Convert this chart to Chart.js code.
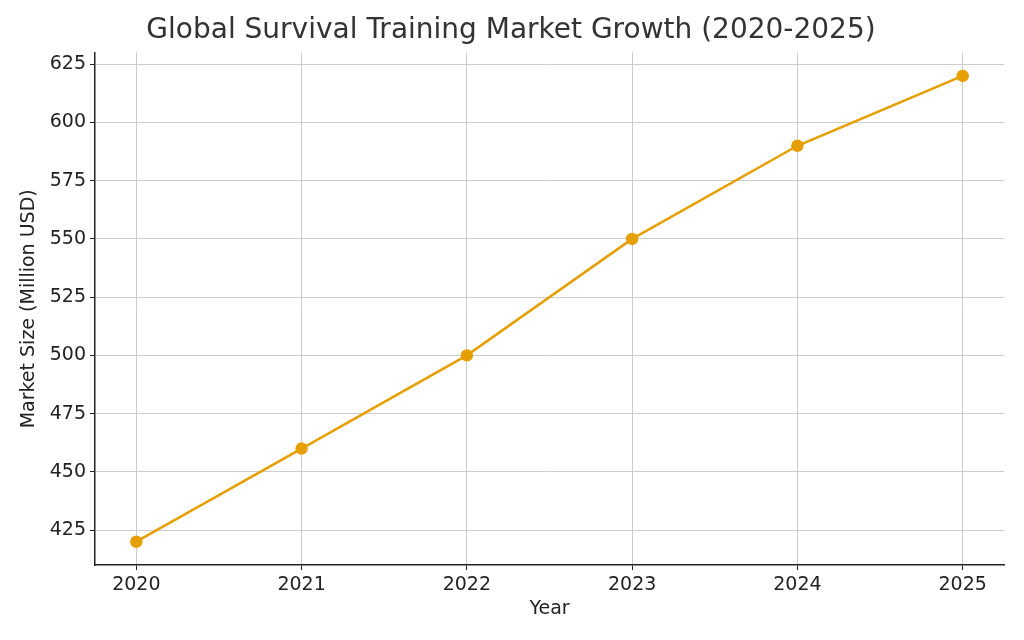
<!DOCTYPE html>
<html><head><meta charset="utf-8">
<script src="https://cdn.jsdelivr.net/npm/chart.js@4"></script>
<style>html,body{margin:0;padding:0;background:#fff}#w{width:1024px;height:640px}</style>
</head><body><div id="w"><canvas id="c"></canvas></div>
<script>
const years = [2020, 2021, 2022, 2023, 2024, 2025];
const marketSize = [420, 460, 500, 550, 590, 620];
const yTicks = [425, 450, 475, 500, 525, 550, 575, 600, 625];
const color = '#E69F00';
Chart.defaults.font.family = 'DejaVu Sans';
Chart.defaults.color = '#222';
new Chart(document.getElementById('c'), {
  type: 'line',
  data: { datasets: [{
    data: years.map((y, i) => ({x: y, y: marketSize[i]})),
    borderColor: color, backgroundColor: color, borderWidth: 2.5,
    pointRadius: 5, pointHoverRadius: 5, tension: 0
  }]},
  options: {
    responsive: true, maintainAspectRatio: false, animation: false,
    layout: { padding: { left: 18, right: 20, top: 0, bottom: 20 } },
    plugins: {
      legend: { display: false }, tooltip: { enabled: false },
      title: { display: true, text: 'Global Survival Training Market Growth (2020-2025)',
        font: { size: 28, weight: 'normal' }, color: '#333', padding: { top: 14, bottom: 5 } }
    },
    scales: {
      x: {
        type: 'linear', min: 2019.75, max: 2025.25,
        afterBuildTicks: a => { a.ticks = years.map(v => ({value: v})); },
        afterFit: a => { a.height = 55; },
        ticks: { font: { size: 19 }, color: '#222', padding: 4, callback: v => String(v) },
        title: { display: true, text: 'Year', font: { size: 19 }, color: '#222', padding: 0 },
        grid: { color: '#ccc', tickLength: 5, tickColor: '#222' },
        border: { color: '#222', width: 1.5 }
      },
      y: {
        min: 410, max: 630,
        afterBuildTicks: a => { a.ticks = yTicks.map(v => ({value: v})); },
        afterFit: a => { a.width = 77; },
        ticks: { font: { size: 19 }, color: '#222', padding: 4 },
        title: { display: true, text: 'Market Size (Million USD)', font: { size: 19 }, color: '#222', padding: 0 },
        grid: { color: '#ccc', tickLength: 5, tickColor: '#222' },
        border: { color: '#222', width: 1.5 }
      }
    }
  },
  plugins: [{ id: 'dash', beforeDraw: c => {
    ['x','y'].forEach(k => { c.scales[k].options.grid.borderDash = [4,3]; });
  }}]
});
</script></body></html>
